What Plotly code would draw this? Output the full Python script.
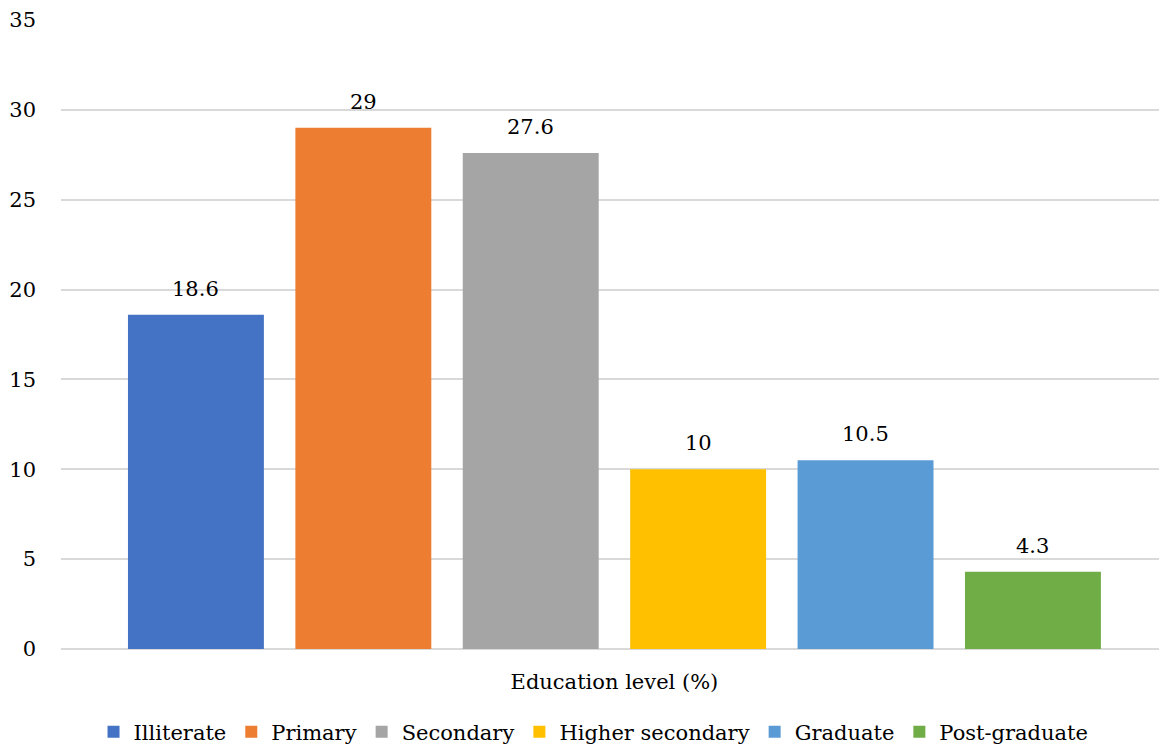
import plotly.graph_objects as go

categories = ["Illiterate", "Primary", "Secondary", "Higher secondary", "Graduate", "Post-graduate"]
values = [18.6, 29, 27.6, 10, 10.5, 4.3]
colors = ["#4472C4", "#ED7D31", "#A5A5A5", "#FFC000", "#5B9BD5", "#70AD47"]
group_label = "Education level (%)"
y_ticks = [0, 5, 10, 15, 20, 25, 30, 35]

FONT = "DejaVu Serif"
FS = 21

fig = go.Figure()
positions = list(range(len(categories)))
for pos, name, val, col in zip(positions, categories, values, colors):
    fig.add_trace(go.Bar(
        name=name,
        x=[pos],
        y=[val],
        width=0.812,
        marker=dict(color=col, line=dict(width=0)),
        cliponaxis=False,
    ))
    fig.add_annotation(
        x=pos, y=val, xref="x", yref="y",
        text=f"{val:g}", showarrow=False,
        yanchor="bottom", yshift=12,
        font=dict(family=FONT, size=FS, color="#000000"),
    )

fig.update_layout(
    width=1159, height=749,
    margin=dict(l=61, r=0, t=20, b=100, autoexpand=False),
    paper_bgcolor="white", plot_bgcolor="white",
    barmode="overlay",
    font=dict(family=FONT, size=FS, color="#000000"),
    showlegend=True,
    legend=dict(
        orientation="h", x=0.485, xanchor="center", xref="paper",
        y=-0.132, yanchor="middle",
        font=dict(family=FONT, size=FS, color="#000000"),
        traceorder="normal",
        itemwidth=30,
    ),
    xaxis=dict(
        range=[-0.806, 5.753],
        tickvals=[(positions[0] + positions[-1]) / 2],
        ticktext=[group_label],
        showgrid=False, showline=False, zeroline=False,
        ticks="", ticklabelstandoff=18,
        tickfont=dict(family=FONT, size=FS, color="#000000"),
    ),
    yaxis=dict(
        range=[0, 35],
        tickvals=y_ticks,
        showgrid=True, gridcolor="#D9D9D9", gridwidth=1.5,
        zeroline=True, zerolinecolor="#D9D9D9", zerolinewidth=1.5,
        showline=False, ticks="", ticklabelstandoff=24,
        tickfont=dict(family=FONT, size=FS, color="#000000"),
    ),
)

fig.write_html("out.html")
